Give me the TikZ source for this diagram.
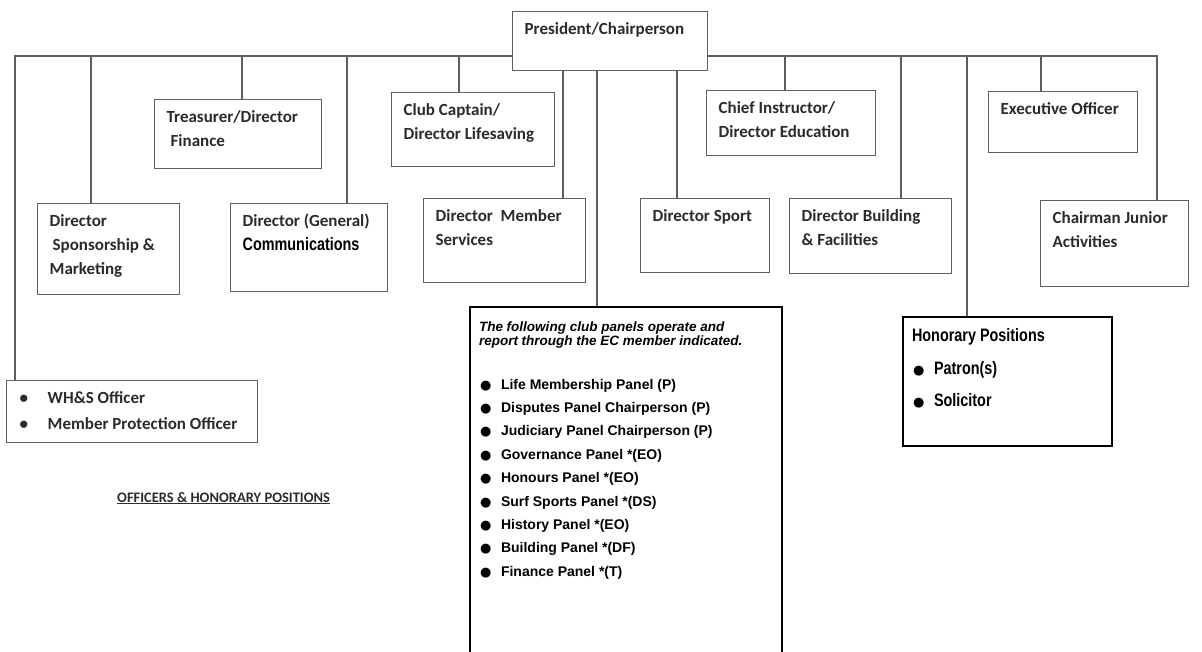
\documentclass[tikz,border=0pt]{standalone}
\usepackage{fontspec}
\setmainfont{Carlito}
\newfontfamily\arialfont{Liberation Sans}
\newfontfamily\narrowfont[FakeStretch=0.8]{Liberation Sans}
\newfontfamily\dejavufont{DejaVu Sans}
\usepackage{tikz}
\definecolor{linegray}{HTML}{5F5F5F}
\definecolor{txtgray}{HTML}{2B2B2B}
\newcommand{\orgtxt}[3]{\parbox[t][#2pt][t]{#1pt}{\raggedright\leftskip=12pt\rule{0pt}{23pt}#3}}
\newcommand{\bigdot}{{\dejavufont\fontsize{13}{13}\selectfont ●}}
\newcommand{\dotitem}[1]{\makebox[22pt][l]{\hspace*{1pt}\bigdot}#1}
\newcommand{\smalldot}[1]{\hspace*{1pt}\makebox[28pt][l]{•}#1}

\begin{document}
\begin{tikzpicture}[x=1pt,y=-1pt,
  orgbox/.style={draw=linegray,line width=1.3pt,fill=white,inner sep=0pt,anchor=north west,text=txtgray,font=\bfseries\fontsize{17}{24}\selectfont},
  blackbox/.style={draw=black,line width=2pt,fill=white,inner sep=0pt,anchor=north west,text=black},
  conn/.style={draw=linegray,line width=1.3pt}]
\useasboundingbox (0,0) rectangle (1202,652);

\node[orgbox] (pres) at (512,11) {\orgtxt{195}{59}{President/Chairperson}};
\node[orgbox] (treas) at (154,99) {\orgtxt{167}{69}{Treasurer/Director\\\hspace*{4pt}Finance}};
\node[orgbox] (capt) at (391,92) {\orgtxt{163}{74}{Club Captain/\\Director Lifesaving}};
\node[orgbox] (chief) at (706,90) {\orgtxt{169}{65}{Chief Instructor/\\Director Education}};
\node[orgbox] (exec) at (988,91) {\orgtxt{149}{61}{Executive Officer}};
\node[orgbox] (spons) at (37,203) {\orgtxt{142}{91}{Director\\\hspace*{3pt}Sponsorship \&\\Marketing}};
\node[orgbox] (gen) at (230,203) {\orgtxt{157}{88}{Director (General)\\{\narrowfont\fontsize{18}{24}\selectfont\color{black}Communications}}};
\node[orgbox] (memb) at (423,198) {\orgtxt{162}{84}{Director\ \ Member\\Services}};
\node[orgbox] (sport) at (640,198) {\orgtxt{129}{74}{Director Sport}};
\node[orgbox] (build) at (789,198) {\orgtxt{162}{75}{Director Building\\\& Facilities}};
\node[orgbox] (junior) at (1040,200) {\orgtxt{148}{86}{Chairman Junior\\Activities}};
\node[orgbox] (whs) at (6,380) {\orgtxt{251}{62}{\smalldot{WH\&S Officer}\\[2pt]\smalldot{Member Protection Officer}}};

\node[blackbox] (panels) at (469,306) {\parbox[t][360pt][t]{312pt}{\raggedright\leftskip=9pt\arialfont\bfseries
  {\itshape\fontsize{13.5}{14}\selectfont\rule{0pt}{24pt}The following club panels operate and\\report through the EC member indicated.\par}
  \fontsize{14}{23.4}\selectfont\vspace{20.6pt}
  \dotitem{Life Membership Panel (P)}\\
  \dotitem{Disputes Panel Chairperson (P)}\\
  \dotitem{Judiciary Panel Chairperson (P)}\\
  \dotitem{Governance Panel *(EO)}\\
  \dotitem{Honours Panel *(EO)}\\
  \dotitem{Surf Sports Panel *(DS)}\\
  \dotitem{History Panel *(EO)}\\
  \dotitem{Building Panel *(DF)}\\
  \dotitem{Finance Panel *(T)}}};

\node[blackbox] (honor) at (902,316) {\parbox[t][129pt][t]{209pt}{\raggedright\leftskip=9pt\narrowfont\bfseries\fontsize{18}{32.5}\selectfont\rule{0pt}{24.5pt}Honorary Positions\\\dotitem{Patron(s)}\\\dotitem{Solicitor}}};

\node[anchor=base west,inner sep=0pt,text=txtgray,font=\bfseries\fontsize{14.5}{17}\selectfont] (title) at (117,502) {\underline{OFFICERS \& HONORARY POSITIONS}};

\coordinate (tapL) at (15,56);
\coordinate (tapR) at (1157,56);
\draw[conn] (pres.west |- tapL) -- (tapL) -- (tapL |- whs.north);
\draw[conn] (pres.east |- tapR) -- (tapR) -- (tapR |- junior.north);
\foreach \x/\b in {91/spons,242/treas,347/gen,459/capt,785/chief,901/build,967/honor,1041/exec}{
  \coordinate (t-\b) at (\x,56);
  \draw[conn] (t-\b) -- (t-\b |- \b.north);
}
\foreach \x/\b in {563/memb,597/panels,677/sport}{
  \coordinate (t-\b) at (\x,56);
  \draw[conn] (t-\b |- pres.south) -- (t-\b |- \b.north);
}
\end{tikzpicture}
\end{document}
